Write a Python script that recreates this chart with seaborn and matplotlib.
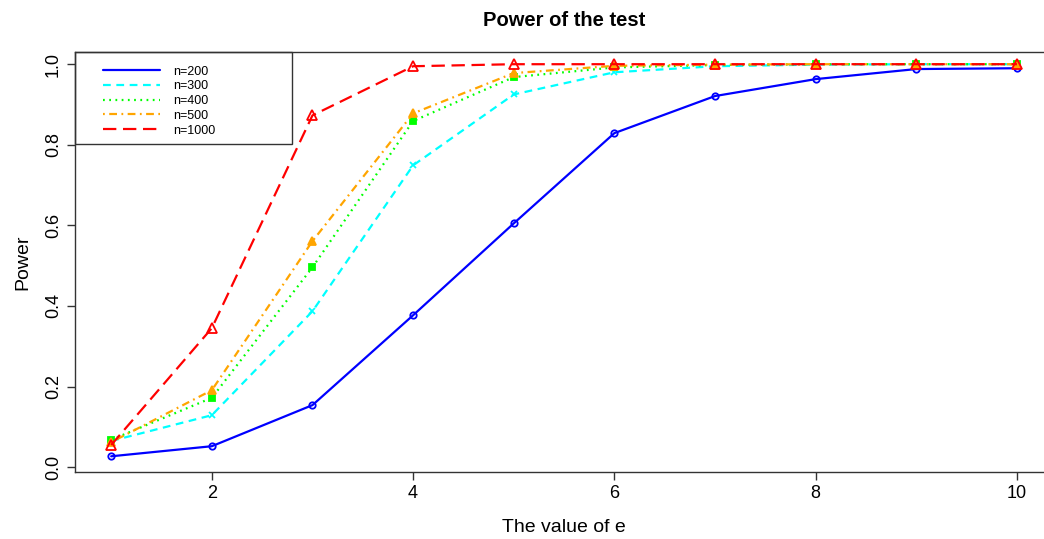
import pandas as pd
import matplotlib
matplotlib.use("Agg")
import matplotlib.pyplot as plt
import seaborn as sns
from matplotlib.patches import Rectangle

# Data
e_values = [1, 2, 3, 4, 5, 6, 7, 8, 9, 10]
power_n200 = [0.027, 0.052, 0.154, 0.377, 0.605, 0.829, 0.921, 0.963, 0.988, 0.990]
power_n300 = [0.065, 0.129, 0.387, 0.749, 0.925, 0.980, 0.995, 0.999, 1.0, 1.0]
power_n400 = [0.068, 0.172, 0.496, 0.859, 0.968, 0.992, 0.998, 1.0, 1.0, 1.0]
power_n500 = [0.062, 0.191, 0.561, 0.878, 0.978, 0.996, 0.999, 1.0, 1.0, 1.0]
power_n1000 = [0.055, 0.345, 0.873, 0.995, 1.0, 1.0, 1.0, 1.0, 1.0, 1.0]
series_labels = ["n=200", "n=300", "n=400", "n=500", "n=1000"]

if __name__ == "__main__":
    sns.set_style("ticks")
    plt.rcParams['font.family'] = ['Liberation Sans', 'DejaVu Sans']
    plt.rcParams['text.color'] = 'black'
    plt.rcParams['axes.labelcolor'] = 'black'
    plt.rcParams['xtick.color'] = 'black'
    plt.rcParams['ytick.color'] = 'black'

    fig = plt.figure(figsize=(10.44, 5.39), dpi=100)
    ax = fig.add_axes([0.0718, 0.1243, 0.937, 0.779])

    all_series = [power_n200, power_n300, power_n400, power_n500, power_n1000]
    # style per series: color, dashes, marker, marker size, filled
    styles = [
        ("#0000FF", (None, None), "o", 4.6, False),
        ("#00FFFF", (3.5, 2.5), "x", 5, True),
        ("#00FF00", (0.8, 2.0), "s", 5, True),
        ("#FFA500", (0.8, 2.0, 3.5, 2.0), "^", 6, True),
        ("#FF0000", (6, 3), "^", 6.5, False),
    ]

    for vals, lab, (col, dash, mk, ms, filled) in zip(all_series, series_labels, styles):
        df = pd.DataFrame({"e": e_values, "power": vals})
        kw = dict(marker=mk, markersize=ms, markeredgewidth=1.3, color=col,
                  markeredgecolor=col, linewidth=1.6)
        if not filled:
            kw["markerfacecolor"] = "none"
        else:
            kw["markerfacecolor"] = col
        if dash[0] is not None:
            kw["dashes"] = dash
        sns.lineplot(data=df, x="e", y="power", ax=ax, label=lab, **kw)

    ax.set_xlim(0.64, 10.36)
    ax.set_ylim(-0.012, 1.03)
    ax.set_xticks([2, 4, 6, 8, 10])
    ax.set_yticks([0.0, 0.2, 0.4, 0.6, 0.8, 1.0])
    ax.set_yticklabels(["0.0", "0.2", "0.4", "0.6", "0.8", "1.0"],
                       rotation=90, va="center")
    ax.tick_params(axis="both", labelsize=13, length=6, width=1,
                   color="#333333", direction="out")
    for sp in ax.spines.values():
        sp.set_color("#333333")
        sp.set_linewidth(1)

    ax.set_xlabel("The value of e", fontsize=14, labelpad=12)
    ax.set_ylabel("Power", fontsize=14, labelpad=10)
    ax.set_title("Power of the test", fontsize=14.5, fontweight="bold", pad=19)

    # Legend (no markers) with R-style box
    leg = ax.legend(loc="upper left", bbox_to_anchor=(0.0286, 0.968),
                    frameon=False, fontsize=9, handlelength=4.6,
                    handletextpad=1.0, labelspacing=0.22, borderpad=0,
                    borderaxespad=0)
    for h in leg.get_lines():
        h.set_marker("None")
    ax.add_patch(Rectangle((0, 0.781), 0.222, 0.219, transform=ax.transAxes,
                           fill=False, edgecolor="#333333", linewidth=1,
                           clip_on=False))

    fig.savefig("out.png", dpi=100)
